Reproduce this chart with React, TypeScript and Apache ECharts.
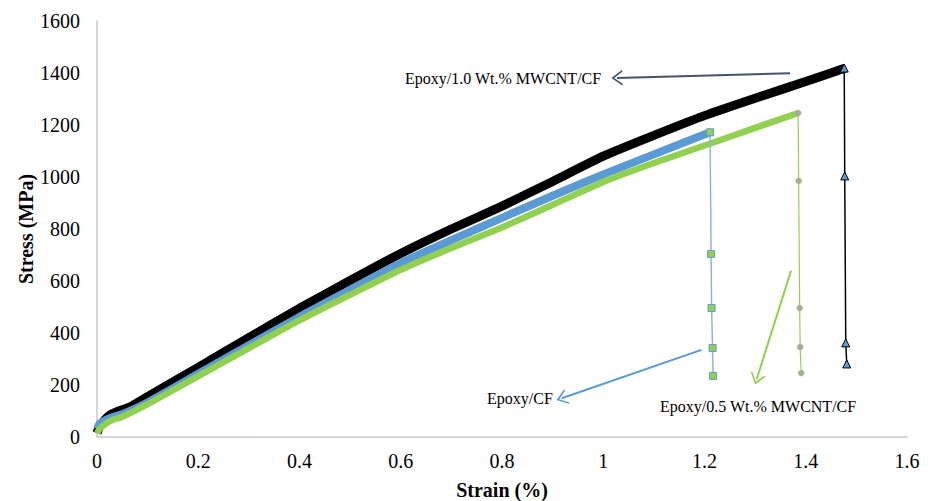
import React, { useEffect, useRef } from "react";
import * as echarts from "echarts";

// Main stress-strain curves [strain %, stress MPa]
const curve10: number[][] = [
  [0, 15], [0.005, 40], [0.015, 65], [0.026, 85], [0.045, 102], [0.065, 115], [0.1, 155],
  [0.2, 268], [0.3, 382], [0.4, 495], [0.5, 602], [0.6, 706], [0.7, 800], [0.8, 888],
  [0.9, 983], [1.0, 1080], [1.1, 1160], [1.2, 1236], [1.3, 1303], [1.4, 1367], [1.478, 1419],
];
const curveCF: number[][] = [
  [0, 30], [0.005, 50], [0.015, 63], [0.03, 76], [0.05, 88], [0.1, 133], [0.2, 243],
  [0.3, 353], [0.4, 462], [0.5, 566], [0.6, 669], [0.7, 757], [0.8, 843], [0.9, 928],
  [1.0, 1010], [1.1, 1087], [1.211, 1172],
];
const curve05: number[][] = [
  [0, 15], [0.005, 30], [0.015, 48], [0.03, 65], [0.05, 78], [0.1, 126], [0.2, 234],
  [0.3, 342], [0.4, 449], [0.5, 547], [0.6, 643], [0.7, 727], [0.8, 806], [0.9, 893],
  [1.0, 981], [1.1, 1054], [1.2, 1121], [1.3, 1189], [1.385, 1246],
];

// Failure drop points
const dropCF: number[][] = [[1.211, 1172], [1.213, 704], [1.214, 496], [1.216, 342], [1.217, 235]];
const drop05: number[][] = [[1.385, 1246], [1.386, 985], [1.388, 496], [1.389, 346], [1.391, 246]];
const drop10: number[][] = [[1.476, 1419], [1.477, 1004], [1.479, 362], [1.481, 281]];

// Annotation arrows: [tail, head] in data coords
const arrow10: number[][] = [[1.369, 1399], [1.027, 1381]];
const arrowCF: number[][] = [[1.194, 335], [0.918, 149]];
const arrow05: number[][] = [[1.371, 640], [1.303, 222]];

const labels = ["Epoxy/1.0 Wt.% MWCNT/CF", "Epoxy/CF", "Epoxy/0.5 Wt.% MWCNT/CF"];

const FONT = "'Liberation Serif', 'Times New Roman', serif";
const CHEVRON = "path://M0,11 L8,0 L16,11 L14,11 L8,2.8 L2,11 Z";

function arrowLine(pts: number[][], color: string) {
  return [
    { coord: pts[0], symbol: "none" },
    {
      coord: pts[1],
      symbol: CHEVRON,
      symbolSize: [16, 11],
      lineStyle: { color, width: 2, type: "solid" },
      itemStyle: { color },
    },
  ];
}

export default function App() {
  const ref = useRef<HTMLDivElement>(null);
  useEffect(() => {
    document.body.style.margin = "0";
    const chart = echarts.init(ref.current!, null, { renderer: "svg" });
    chart.setOption({
      animation: false,
      backgroundColor: "#ffffff",
      grid: { left: 97, right: 24, top: 21, bottom: 64, outerBoundsMode: "none", containLabel: false },
      xAxis: {
        type: "value",
        min: 0,
        max: 1.6,
        interval: 0.2,
        name: "Strain (%)",
        nameLocation: "middle",
        nameGap: 43,
        nameMoveOverlap: false,
        nameTextStyle: { fontFamily: FONT, fontSize: 20, fontWeight: "bold", color: "#000" },
        axisLine: { show: true, lineStyle: { color: "#c8c8c8", width: 1.5 } },
        axisTick: { show: false },
        splitLine: { show: false },
        axisLabel: { fontFamily: FONT, fontSize: 20, color: "#000", margin: 14 },
      },
      yAxis: {
        type: "value",
        min: 0,
        max: 1600,
        interval: 200,
        name: "Stress (MPa)",
        nameLocation: "middle",
        nameGap: 61,
        nameMoveOverlap: false,
        nameTextStyle: { fontFamily: FONT, fontSize: 20, fontWeight: "bold", color: "#000" },
        axisLine: { show: true, lineStyle: { color: "#c8c8c8", width: 1.5 } },
        axisTick: { show: false },
        splitLine: { show: false },
        axisLabel: {
          fontFamily: FONT,
          fontSize: 20,
          color: "#000",
          margin: 17,
          formatter: (v: number) => String(v),
        },
      },
      series: [
        {
          type: "line",
          data: curve10,
          showSymbol: false,
          smooth: 0.15,
          lineStyle: { color: "#000000", width: 9 },
          z: 2,
        },
        {
          type: "line",
          data: curveCF,
          showSymbol: false,
          smooth: 0.15,
          lineStyle: { color: "#5b9bd5", width: 8 },
          z: 3,
        },
        {
          type: "line",
          data: curve05,
          showSymbol: false,
          smooth: 0.15,
          lineStyle: { color: "#92d050", width: 6.5 },
          z: 4,
        },
        {
          type: "line",
          data: dropCF,
          symbol: "rect",
          symbolSize: 7,
          lineStyle: { color: "#8db4e2", width: 1.5 },
          itemStyle: { color: "#92d050", borderColor: "#5b9bd5", borderWidth: 1 },
          z: 5,
          markLine: {
            silent: true,
            animation: false,
            label: { show: false },
            data: [arrowLine(arrowCF, "#5b9bd5")],
          },
        },
        {
          type: "line",
          data: drop05,
          symbol: "circle",
          symbolSize: 6,
          lineStyle: { color: "#92d050", width: 1.2 },
          itemStyle: { color: "#a5ad9a", borderColor: "#a5c27a", borderWidth: 0.5 },
          z: 5,
          markLine: {
            silent: true,
            animation: false,
            label: { show: false },
            data: [arrowLine(arrow05, "#92d050")],
          },
        },
        {
          type: "line",
          data: drop10,
          symbol: "triangle",
          symbolSize: 8,
          lineStyle: { color: "#000000", width: 1.5 },
          itemStyle: { color: "#5b9bd5", borderColor: "#000000", borderWidth: 1 },
          z: 5,
          markLine: {
            silent: true,
            animation: false,
            label: { show: false },
            data: [arrowLine(arrow10, "#44546a")],
          },
        },
      ],
      graphic: [
        {
          type: "text",
          x: 405,
          y: 78,
          style: { text: labels[0], font: `16px ${FONT}`, fill: "#000", verticalAlign: "middle" },
        },
        {
          type: "text",
          x: 487,
          y: 398,
          style: { text: labels[1], font: `16px ${FONT}`, fill: "#000", verticalAlign: "middle" },
        },
        {
          type: "text",
          x: 660,
          y: 406,
          style: { text: labels[2], font: `16px ${FONT}`, fill: "#000", verticalAlign: "middle" },
        },
      ],
    });
    return () => chart.dispose();
  }, []);
  return <div ref={ref} style={{ width: 931, height: 501 }} />;
}
